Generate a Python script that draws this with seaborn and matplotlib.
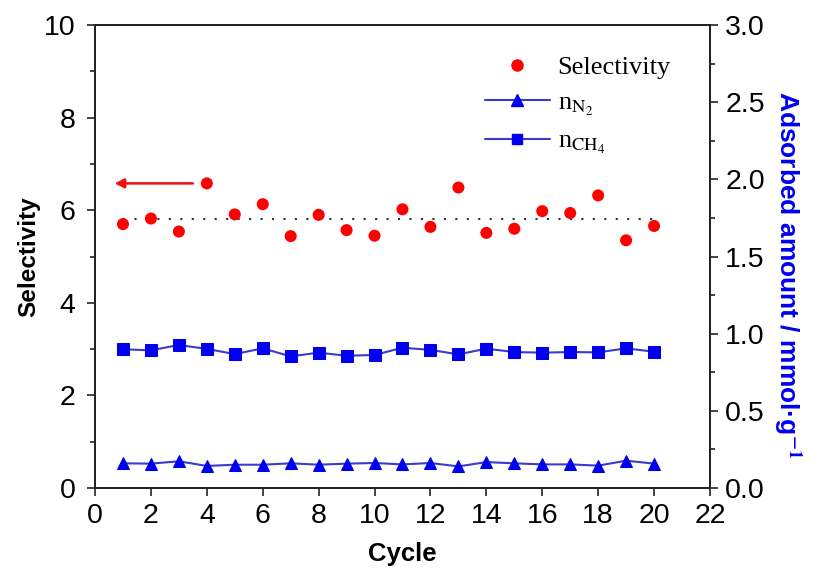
import matplotlib
matplotlib.use("Agg")
import matplotlib.pyplot as plt
import seaborn as sns
import pandas as pd
from matplotlib.lines import Line2D
from matplotlib.ticker import MultipleLocator

cycles = list(range(1, 21))
selectivity = [5.70, 5.82, 5.54, 6.58, 5.91, 6.13, 5.44, 5.90, 5.57, 5.45,
               6.02, 5.64, 6.49, 5.51, 5.60, 5.98, 5.94, 6.32, 5.35, 5.66]
n_ch4 = [0.899, 0.892, 0.927, 0.901, 0.868, 0.905, 0.853, 0.877, 0.857, 0.862,
         0.909, 0.895, 0.866, 0.903, 0.881, 0.877, 0.881, 0.879, 0.905, 0.883]
n_n2 = [0.160, 0.158, 0.173, 0.143, 0.151, 0.151, 0.160, 0.151, 0.158, 0.162,
        0.153, 0.162, 0.140, 0.168, 0.160, 0.153, 0.153, 0.145, 0.177, 0.158]
mean_sel = 5.82
arrow_y = 6.58
arrow_from, arrow_to = 3.6, 0.6

df = pd.DataFrame({"Cycle": cycles, "Selectivity": selectivity,
                   "CH4": n_ch4, "N2": n_n2})

sns.set_style("ticks")
plt.rcParams["font.family"] = ["Liberation Sans", "DejaVu Sans"]
plt.rcParams["mathtext.fontset"] = "stix"
for k in ("text.color", "axes.labelcolor", "xtick.color", "ytick.color",
          "axes.edgecolor"):
    plt.rcParams[k] = "black"

fig = plt.figure(figsize=(8.22, 5.74), dpi=100)
ax = fig.add_axes([0.1156, 0.1498, 0.7481, 0.8066])
ax2 = ax.twinx()

sns.scatterplot(data=df, x="Cycle", y="Selectivity", ax=ax, color="#ff0000",
                s=75, edgecolor="none", legend=False, zorder=3)
ax.plot([cycles[0], cycles[-1]], [mean_sel, mean_sel], color="#333333",
        lw=1.5, dashes=(1, 4.5), zorder=2)
ax.annotate("", xy=(arrow_to, arrow_y), xytext=(arrow_from, arrow_y),
            arrowprops=dict(arrowstyle="-|>", color="#ee1111", lw=1.8,
                            mutation_scale=14))

blue_line = "#3a3acc"
sns.lineplot(data=df, x="Cycle", y="N2", ax=ax2, color=blue_line, lw=1.5,
             marker="^", markersize=9, markerfacecolor="#0000ee",
             markeredgecolor="#0000ee", legend=False)
sns.lineplot(data=df, x="Cycle", y="CH4", ax=ax2, color=blue_line, lw=1.5,
             marker="s", markersize=8, markerfacecolor="#0000ee",
             markeredgecolor="#0000ee", legend=False)

ax.set_xlim(0, 22)
ax.set_ylim(0, 10)
ax2.set_ylim(0, 3.0)
ax.xaxis.set_major_locator(MultipleLocator(2))
ax.yaxis.set_major_locator(MultipleLocator(2))
ax.yaxis.set_minor_locator(MultipleLocator(1))
ax2.yaxis.set_major_locator(MultipleLocator(0.5))
ax2.yaxis.set_minor_locator(MultipleLocator(0.25))
ax2.set_yticks([0, 0.5, 1.0, 1.5, 2.0, 2.5, 3.0])
ax2.set_yticklabels(["0.0", "0.5", "1.0", "1.5", "2.0", "2.5", "3.0"])

for a in (ax, ax2):
    for sp in a.spines.values():
        sp.set_visible(True)
        sp.set_linewidth(1.3)
        sp.set_color("#222222")
    a.tick_params(which="major", length=6, width=1.2, labelsize=20.5,
                  color="#222222", direction="out", pad=5)
    a.tick_params(which="minor", length=3.5, width=1.2, color="#222222",
                  direction="out")
ax.tick_params(axis="y", pad=8)

ax.set_xlabel("Cycle", fontsize=18.5, fontweight="bold", labelpad=9)
ax.set_ylabel("Selectivity", fontsize=17.5, fontweight="bold")
ax.yaxis.set_label_coords(-0.089, 0.5)
ax2.set_ylabel("Adsorbed amount / mmol·g$^{\\mathbf{-1}}$", fontsize=19,
               fontweight="bold", color="#0000ee", rotation=270)
ax2.yaxis.set_label_coords(1.152, 0.46)

handles = [
    Line2D([], [], color="#ff0000", marker="o", ls="none", markersize=8),
    Line2D([], [], color=blue_line, lw=1.5, marker="^", markersize=8,
           markerfacecolor="#0000ee", markeredgecolor="#0000ee"),
    Line2D([], [], color=blue_line, lw=1.5, marker="s", markersize=7,
           markerfacecolor="#0000ee", markeredgecolor="#0000ee"),
]
labels = ["Selectivity", r"n$_{\mathrm{N_2}}$", r"n$_{\mathrm{CH_4}}$"]
ax2.legend(handles, labels, loc="upper right", bbox_to_anchor=(0.975, 0.985),
           frameon=False, prop={"family": "Liberation Serif", "size": 19},
           handlelength=2.45, handletextpad=0.3, labelspacing=0.45)

fig.savefig("out.png", dpi=100)
